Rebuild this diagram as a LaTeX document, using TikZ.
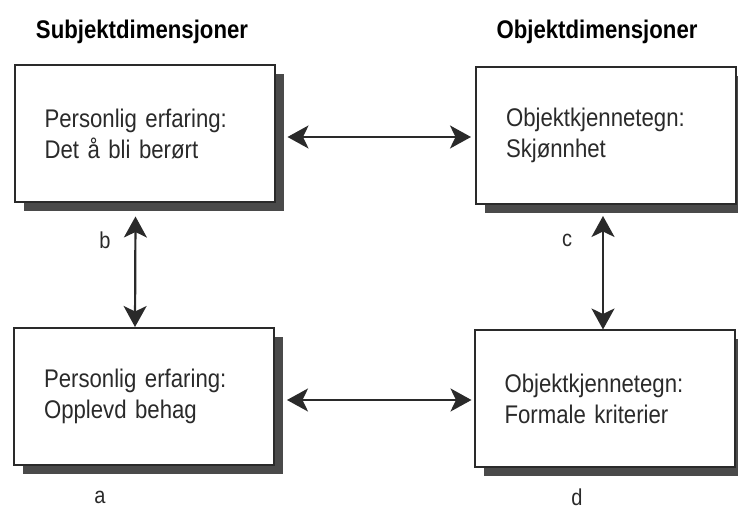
\documentclass[tikz,border=0pt]{standalone}
\usepackage{fontspec}
\setmainfont{Liberation Sans}
\newfontfamily\narrowsans[FakeStretch=0.87]{Liberation Sans}
\newcommand\boxtextfont{\narrowsans\fontsize{25.5}{31}\selectfont
  \spaceskip=5pt plus 1pt minus 1pt\relax}
\usetikzlibrary{arrows.meta,shadows}
\definecolor{ink}{HTML}{2A2A2A}
\definecolor{shade}{HTML}{4A4A4A}
\begin{document}
\begin{tikzpicture}[x=1pt,y=1pt,
  dimbox/.style={draw=ink, line width=2pt, fill=white,
    minimum width=260pt, minimum height=137pt, text width=200pt,
    align=left, inner sep=0pt, text=ink, font=\boxtextfont,
    drop shadow={shadow xshift=9pt, shadow yshift=-9pt, fill=shade, opacity=1}},
  heading/.style={font=\narrowsans\bfseries\fontsize{25.5}{28}\selectfont, text=black, inner sep=0pt},
  tag/.style={font=\narrowsans\fontsize{23}{26}\selectfont, text=ink, inner sep=0pt},
  tip/.tip={Stealth[length=21pt,width=23pt,inset=5.5pt]},
  link/.style={draw=ink, line width=2.2pt, tip-tip}
]
\useasboundingbox (0,0) rectangle (738,513);
\fill[white] (0,0) rectangle (738,513);

% column headings
\node[heading] (hsub) at (142,481) {Subjektdimensjoner};
\node[heading] (hobj) at (597,481) {Objektdimensjoner};

% the four boxes
\node[dimbox] (tl) at (144.5,379) {Personlig erfaring:\\Det å bli berørt};
\node[dimbox] (tr) at (606,377.5) {Objektkjennetegn:\\Skjønnhet};
\node[dimbox] (bl) at (144,116.5) {Personlig erfaring:\\Opplevd behag};
\node[dimbox] (br) at (604.5,114) {Objektkjennetegn:\\Formale kriterier};

% two-way connectors
\draw[link] ([xshift=12pt,yshift=-3pt]tl.east) -- ([xshift=-4pt,yshift=-1.5pt]tr.west);
\draw[link] ([xshift=12pt,yshift=-3.5pt]bl.east) -- ([xshift=-2pt,yshift=-1pt]br.west);
\draw[link] ([xshift=-9pt,yshift=-13pt]tl.south) -- ([xshift=-9pt]bl.north);
\draw[link] ([xshift=-3pt,yshift=-11pt]tr.south) -- ([xshift=-1.5pt]br.north);

% corner letters
\node[tag] (lb) at (105,273) {b};
\node[tag] (lc) at (567,273) {c};
\node[tag] (la) at (100,16) {a};
\node[tag] (ld) at (577,16) {d};
\end{tikzpicture}
\end{document}
